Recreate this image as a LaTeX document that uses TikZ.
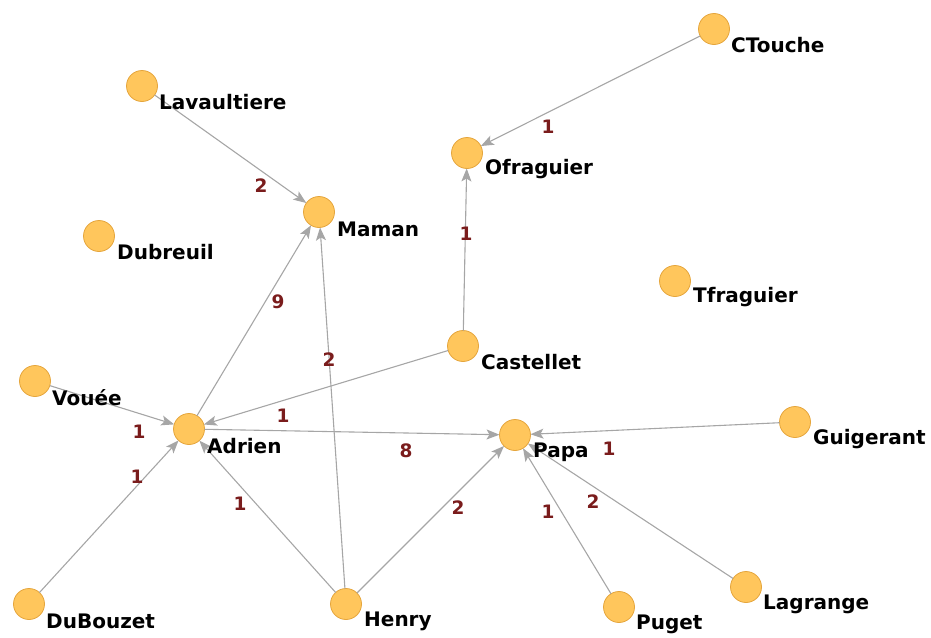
\documentclass[tikz,border=0pt]{standalone}
\usepackage{fontspec}
\setmainfont{DejaVu Sans}
\usetikzlibrary{arrows.meta}
\definecolor{nodefill}{HTML}{FFC65C}
\definecolor{nodedraw}{HTML}{E5A53C}
\definecolor{edgecol}{HTML}{A6A6A6}
\definecolor{numcol}{HTML}{7A1C1C}
\tikzset{
  vertex/.style={circle,fill=nodefill,draw=nodedraw,line width=0.8pt,minimum size=31pt,inner sep=0pt,outer sep=0pt},
  vlabel/.style={anchor=west,inner sep=0pt,font=\fontsize{20}{21}\selectfont\bfseries,text=black},
  elabel/.style={inner sep=0pt,font=\fontsize{18.5}{19}\selectfont\bfseries,text=numcol},
  link/.style={draw=edgecol,line width=1.1pt,-{Stealth[length=13pt,width=10pt,inset=3pt]}},
}
\begin{document}
\begin{tikzpicture}[x=1pt,y=-1pt]
\useasboundingbox (0,0) rectangle (931,637);
% nodes
\node[vertex] (CTouche) at (714,29) {};
\node[vertex] (Lavaultiere) at (142,86) {};
\node[vertex] (Ofraguier) at (467,153) {};
\node[vertex] (Maman) at (319,212) {};
\node[vertex] (Dubreuil) at (99,236) {};
\node[vertex] (Tfraguier) at (675,281) {};
\node[vertex] (Castellet) at (463,346) {};
\node[vertex] (Vouee) at (35,381) {};
\node[vertex] (Adrien) at (189,429) {};
\node[vertex] (Papa) at (515,435) {};
\node[vertex] (Guigerant) at (795,422) {};
\node[vertex] (DuBouzet) at (29,604) {};
\node[vertex] (Henry) at (346,604) {};
\node[vertex] (Puget) at (619,607) {};
\node[vertex] (Lagrange) at (746,587) {};
% edges
\draw[link] (CTouche) -- (Ofraguier);
\draw[link] (Lavaultiere) -- (Maman);
\draw[link] (Castellet) -- (Ofraguier);
\draw[link] (Adrien) -- (Maman);
\draw[link] (Henry) -- (Maman);
\draw[link] (Castellet) -- (Adrien);
\draw[link] (Vouee) -- (Adrien);
\draw[link] (Adrien) -- (Papa);
\draw[link] (Guigerant) -- (Papa);
\draw[link] (DuBouzet) -- (Adrien);
\draw[link] (Henry) -- (Adrien);
\draw[link] (Henry) -- (Papa);
\draw[link] (Puget) -- (Papa);
\draw[link] (Lagrange) -- (Papa);
% vertex labels
\node[vlabel] (tCTouche) at (731,45) {CTouche};
\node[vlabel] (tLavaultiere) at (159,102) {Lavaultiere};
\node[vlabel] (tOfraguier) at (485,169) {Ofraguier};
\node[vlabel] (tMaman) at (337,229) {Maman};
\node[vlabel] (tDubreuil) at (117,252) {Dubreuil};
\node[vlabel] (tTfraguier) at (693,297) {Tfraguier};
\node[vlabel] (tCastellet) at (481,362) {Castellet};
\node[vlabel] (tVouee) at (52,398) {Vouée};
\node[vlabel] (tAdrien) at (207,446) {Adrien};
\node[vlabel] (tPapa) at (533,452) {Papa};
\node[vlabel] (tGuigerant) at (813,439) {Guigerant};
\node[vlabel] (tDuBouzet) at (46,621) {DuBouzet};
\node[vlabel] (tHenry) at (364,621) {Henry};
\node[vlabel] (tPuget) at (636,624) {Puget};
\node[vlabel] (tLagrange) at (763,604) {Lagrange};
% edge labels
\node[elabel] (w1) at (548,127) {1};
\node[elabel] (w2) at (261,186) {2};
\node[elabel] (w3) at (466,234) {1};
\node[elabel] (w4) at (278,302) {9};
\node[elabel] (w5) at (329,360) {2};
\node[elabel] (w6) at (283,416) {1};
\node[elabel] (w7) at (139,432) {1};
\node[elabel] (w8) at (406,451) {8};
\node[elabel] (w9) at (609,449) {1};
\node[elabel] (w10) at (137,477) {1};
\node[elabel] (w11) at (240,504) {1};
\node[elabel] (w12) at (458,508) {2};
\node[elabel] (w13) at (548,512) {1};
\node[elabel] (w14) at (593,502) {2};
\end{tikzpicture}
\end{document}
